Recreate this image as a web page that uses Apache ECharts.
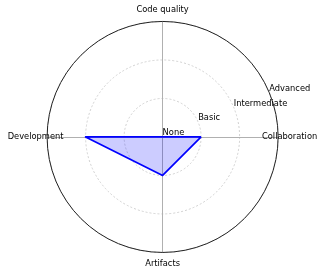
<!DOCTYPE html>
<html><head><meta charset="utf-8">
<script src="https://cdn.jsdelivr.net/npm/echarts@6/dist/echarts.min.js"></script>
<style>html,body{margin:0;padding:0;background:#fff}#c{width:322px;height:275px}</style>
</head><body><div id="c"></div>
<script>
var categories = ['Collaboration', 'Code quality', 'Development', 'Artifacts'];
var levels = ['None', 'Basic', 'Intermediate', 'Advanced'];
var values = [1, 0, 2, 1];

var chart = echarts.init(document.getElementById('c'), null, {renderer: 'canvas'});
var font = 'DejaVu Sans';
var center = ['50.5%', '49.8%'];
var R = 115.5;
chart.setOption({
  animation: false,
  radar: {
    center: center, radius: R, startAngle: 0, shape: 'circle', splitNumber: 3,
    indicator: categories.map(function (c) { return {name: c, min: 0, max: levels.length - 1}; }),
    nameGap: 11.5,
    axisName: {color: '#000', fontSize: 8.3, fontFamily: font, align: 'center', verticalAlign: 'middle'},
    axisLine: {lineStyle: {color: '#b0b0b0', width: 1}},
    splitLine: {lineStyle: {color: '#d0d0d0', width: 1, type: [2, 2]}},
    splitArea: {show: false},
    axisTick: {show: false},
    axisLabel: {show: false}
  },
  polar: {center: center, radius: R},
  angleAxis: {
    type: 'value', min: 0, max: 360, startAngle: 22.5, z: 5,
    axisLine: {show: true, lineStyle: {color: '#222', width: 1}},
    axisTick: {show: false}, axisLabel: {show: false}, splitLine: {show: false}
  },
  radiusAxis: {
    type: 'category', data: levels, boundaryGap: false, z: 6,
    axisLine: {show: false}, axisTick: {show: false}, splitLine: {show: false},
    axisLabel: {show: true, interval: 0, hideOverlap: false, showMinLabel: true, showMaxLabel: true,
      margin: 0, align: 'left', verticalAlign: 'bottom', color: '#000', fontSize: 8.3, fontFamily: font}
  },
  series: [{
    type: 'radar', symbol: 'none',
    lineStyle: {color: '#0000ff', width: 1.7},
    areaStyle: {color: 'rgba(0,0,255,0.2)', opacity: 1},
    data: [{value: values}]
  }]
});
</script></body></html>
